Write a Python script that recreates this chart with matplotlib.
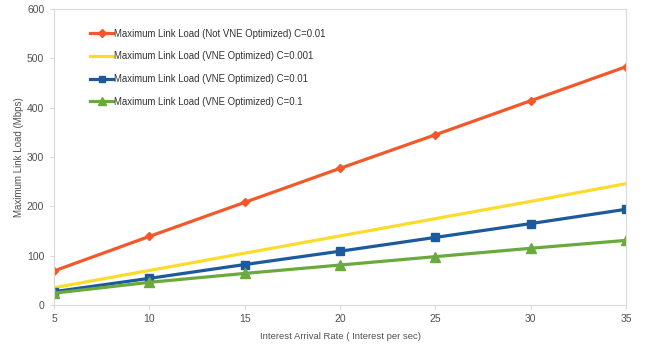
import matplotlib
matplotlib.use("Agg")
import matplotlib.pyplot as plt

rate = [5, 10, 15, 20, 25, 30, 35]
not_opt_c001 = [69, 139, 208, 277, 345, 414, 483]
opt_c0001 = [35, 70, 105, 140, 175, 210, 246]
opt_c001 = [27, 54, 82, 109, 137, 165, 194]
opt_c01 = [24, 46, 64, 81, 98, 115, 131]

labels = [
    "Maximum Link Load (Not VNE Optimized) C=0.01",
    "Maximum Link Load (VNE Optimized) C=0.001",
    "Maximum Link Load (VNE Optimized) C=0.01",
    "Maximum Link Load (VNE Optimized) C=0.1",
]

plt.rcParams['font.family'] = ['Liberation Sans', 'DejaVu Sans']

fig = plt.figure(figsize=(6.49, 3.45), dpi=100)
ax = fig.add_axes([54 / 649, 1 - 305 / 345, (626 - 54) / 649, (305 - 9) / 345])

lw = 2.3
ax.plot(rate, not_opt_c001, color='#f1592a', lw=lw, marker='D', ms=4.5, label=labels[0])
ax.plot(rate, opt_c0001, color='#fbdc2b', lw=lw, label=labels[1])
ax.plot(rate, opt_c001, color='#1d5a9b', lw=lw, marker='s', ms=6, label=labels[2])
ax.plot(rate, opt_c01, color='#6aa93c', lw=lw, marker='^', ms=6.5, label=labels[3])

ax.set_xlim(5, 35)
ax.set_ylim(0, 600)
ax.set_xticks(rate)
ax.set_yticks(range(0, 601, 100))

for s in ax.spines.values():
    s.set_color('#d9d9d9')
    s.set_linewidth(0.8)
ax.tick_params(axis='both', colors='#d9d9d9', labelcolor='#505050', labelsize=7.5, length=3, width=0.8)
ax.tick_params(axis='x', pad=3.5)
ax.tick_params(axis='y', pad=4)

ax.set_xlabel("Interest Arrival Rate ( Interest per sec)", fontsize=6.8, color='#505050', labelpad=6)
ax.set_ylabel("Maximum Link Load (Mbps)", fontsize=7.0, color='#505050', labelpad=2)

leg = ax.legend(loc='upper left', bbox_to_anchor=(0.048, 0.963), frameon=False,
                fontsize=6.9, handlelength=2.4, handletextpad=0.05, labelspacing=1.33,
                markerscale=0.8)
for t in leg.get_texts():
    t.set_color('#333333')

fig.savefig("out.png", dpi=100)
